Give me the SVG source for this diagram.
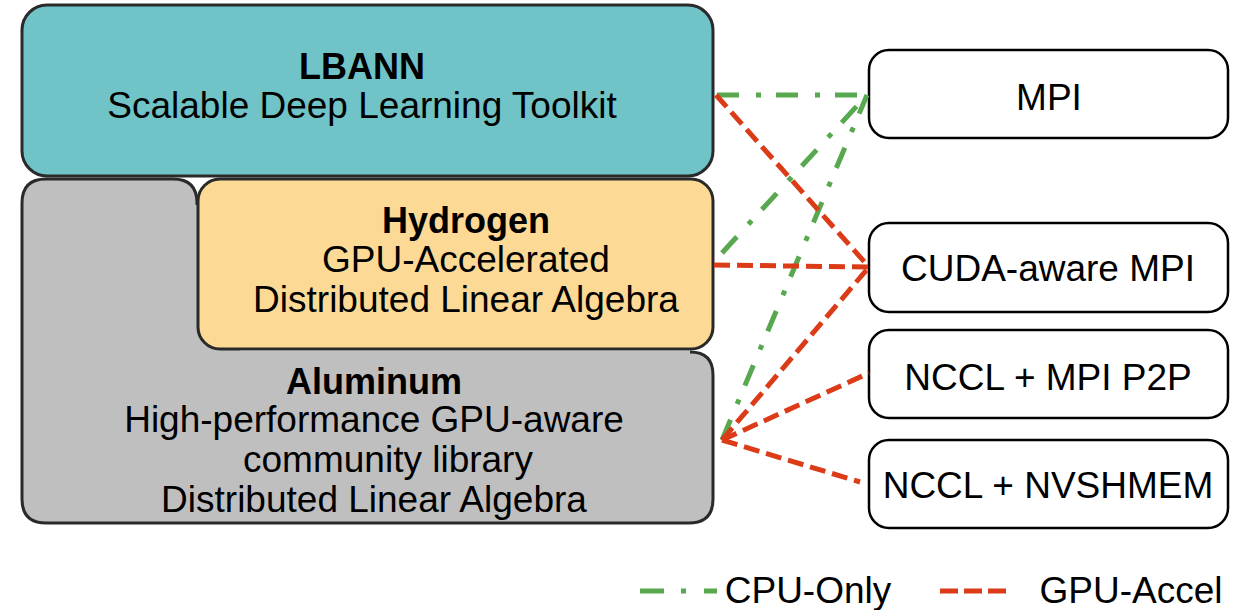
<svg xmlns="http://www.w3.org/2000/svg" width="1237" height="610" viewBox="0 0 1237 610">
<style>
text{font-family:"Liberation Sans",Arial,sans-serif;font-size:37px;fill:#000;text-anchor:middle}
.b{font-weight:bold;font-size:36px}
.lb{stroke:#2a2a2a;stroke-width:3}
.rb{fill:#fff;stroke:#000;stroke-width:2.5}
.g{stroke:#58a84f;stroke-width:5;fill:none;stroke-dasharray:22 17 5 15}
.r{stroke:#dc3b18;stroke-width:5;fill:none;stroke-dasharray:16 7}
</style>
<rect width="1237" height="610" fill="#fff"/>
<g id="aluminum">
<path fill="#bfbfbf" d="M22,203 Q22,179 46,179 H173 Q197,179 197,203 V330 H240 V351 H689 Q713,351 713,375 V499 Q713,523 689,523 H46 Q22,523 22,499 Z"/>
<path class="lb" fill="none" d="M197,205 V203 Q197,179 173,179 H46 Q22,179 22,203 V499 Q22,523 46,523 H689 Q713,523 713,499 V375 Q713,352 690,352"/>
<text x="374" y="394" class="b">Aluminum</text>
<text x="374" y="432">High-performance GPU-aware</text>
<text x="388" y="472">community library</text>
<text x="374" y="512">Distributed Linear Algebra</text>
</g>
<g id="lbann">
<rect class="lb" x="22" y="5" width="691" height="171" rx="25" fill="#70c4c7"/>
<text x="362" y="79" class="b">LBANN</text>
<text x="362" y="118">Scalable Deep Learning Toolkit</text>
</g>
<g id="hydrogen">
<rect class="lb" x="198" y="179" width="515" height="170" rx="22" fill="#fcd995"/>
<text x="466" y="233" class="b">Hydrogen</text>
<text x="466" y="272">GPU-Accelerated</text>
<text x="466" y="312">Distributed Linear Algebra</text>
</g>
<g id="mpi">
<rect class="rb" x="869" y="50" width="359" height="88" rx="20"/>
<text x="1049" y="110">MPI</text>
</g>
<g id="cuda-mpi">
<rect class="rb" x="869" y="223" width="359" height="89" rx="20"/>
<text x="1048" y="281">CUDA-aware MPI</text>
</g>
<g id="nccl-p2p">
<rect class="rb" x="869" y="330" width="359" height="88" rx="20"/>
<text x="1048" y="390">NCCL + MPI P2P</text>
</g>
<g id="nccl-nvshmem">
<rect class="rb" x="869" y="440" width="359" height="88" rx="20"/>
<text x="1048" y="498">NCCL + NVSHMEM</text>
</g>
<g id="connectors">
<line class="g" x1="717" y1="95" x2="867" y2="95"/>
<line class="g" x1="722" y1="253" x2="867" y2="95"/>
<line class="g" x1="722" y1="440" x2="867" y2="95"/>
<line class="r" x1="716" y1="95" x2="869" y2="267"/>
<line class="r" x1="714" y1="265" x2="869" y2="267"/>
<line class="r" x1="722" y1="440" x2="869" y2="267"/>
<line class="r" x1="722" y1="440" x2="869" y2="373"/>
<line class="r" x1="722" y1="440" x2="860" y2="482"/>
</g>
<g id="legend">
<line x1="640" y1="591" x2="717" y2="591" stroke="#58a84f" stroke-width="5" stroke-dasharray="24 17 5 18 13"/>
<text x="808" y="603">CPU-Only</text>
<line x1="940" y1="591" x2="1008" y2="591" stroke="#dc3b18" stroke-width="5" stroke-dasharray="18 6"/>
<text x="1131" y="603">GPU-Accel</text>
</g>
</svg>
